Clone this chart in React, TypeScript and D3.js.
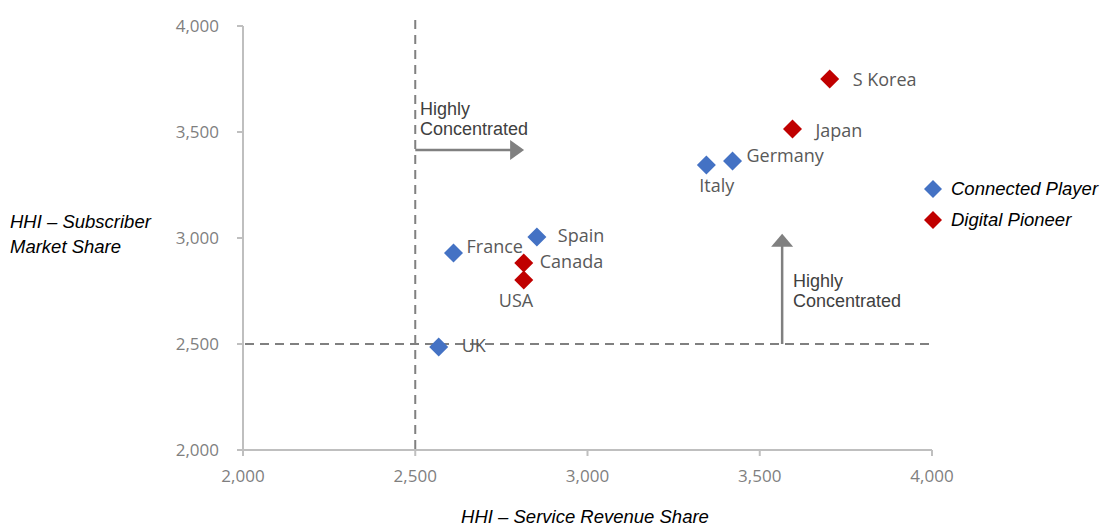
import React from "react";
import * as d3 from "d3";

const countries = ["UK", "France", "Spain", "Canada", "USA", "Italy", "Germany", "Japan", "S Korea"];
const revenueHHI = [2568, 2611, 2853, 2815, 2815, 3345, 3421, 3595, 3703];
const subscriberHHI = [2486, 2929, 3005, 2882, 2802, 3344, 3363, 3514, 3750];
const groups = ["Connected Player", "Connected Player", "Connected Player", "Digital Pioneer", "Digital Pioneer", "Connected Player", "Connected Player", "Digital Pioneer", "Digital Pioneer"];
const seriesNames = ["Connected Player", "Digital Pioneer"];
const xTicks = [2000, 2500, 3000, 3500, 4000];
const yTicks = [2000, 2500, 3000, 3500, 4000];
const threshold = 2500;

// label placement relative to point (dx, dy to baseline)
const labelOffsets: Record<string, [number, number]> = {
  UK: [23, 5],
  France: [13, 0],
  Spain: [21, 5],
  Canada: [16, 5],
  USA: [-25, 27],
  Italy: [-7, 27],
  Germany: [14, 1],
  Japan: [23, 8],
  "S Korea": [23, 7],
};

const W = 1102;
const H = 527;
const colors: Record<string, string> = { "Connected Player": "#4472c4", "Digital Pioneer": "#c00000" };

function diamond(cx: number, cy: number, r: number) {
  return `M${cx},${cy - r}L${cx + r},${cy}L${cx},${cy + r}L${cx - r},${cy}Z`;
}

export default function App() {
  const x = d3.scaleLinear().domain([2000, 4000]).range([243, 932]);
  const y = d3.scaleLinear().domain([2000, 4000]).range([450, 26]);
  const fmt = d3.format(",");
  const axisColor = "#bfbfbf";
  const grey = "#808080";
  const tickFont = "'Open Sans', sans-serif";
  const arial = "'Liberation Sans', Arial, sans-serif";

  const tx = x(threshold);
  const ty = y(threshold);
  const arrowY = y(3415);
  const arrowTipX = x(2816);
  const arrowX = x(3565);
  const arrowTipY = y(3020);

  return (
    <svg width={W} height={H} style={{ position: "absolute", left: 0, top: 0, background: "#fff" }}>
      {/* axes */}
      <line x1={x(2000)} x2={x(4000)} y1={y(2000)} y2={y(2000)} stroke={axisColor} strokeWidth={2} />
      <line x1={x(2000)} x2={x(2000)} y1={y(2000)} y2={y(4000)} stroke={axisColor} strokeWidth={2} />
      {xTicks.map((t) => (
        <g key={"xt" + t}>
          <line x1={x(t)} x2={x(t)} y1={y(2000)} y2={y(2000) + 6} stroke={axisColor} strokeWidth={2} />
          <text x={x(t)} y={482} textAnchor="middle" fontFamily={tickFont} fontSize={17} fill="#7f7f7f">
            {fmt(t)}
          </text>
        </g>
      ))}
      {yTicks.map((t) => (
        <g key={"yt" + t}>
          <line x1={x(2000) - 6} x2={x(2000)} y1={y(t)} y2={y(t)} stroke={axisColor} strokeWidth={2} />
          <text x={219} y={y(t) + 6} textAnchor="end" fontFamily={tickFont} fontSize={17} fill="#7f7f7f">
            {fmt(t)}
          </text>
        </g>
      ))}

      {/* threshold dashed lines */}
      <line x1={tx} x2={tx} y1={20} y2={y(2000)} stroke={grey} strokeWidth={2} strokeDasharray="9,6" />
      <line x1={x(2000) + 2} x2={x(4000)} y1={ty} y2={ty} stroke={grey} strokeWidth={2} strokeDasharray="9,6" />

      {/* horizontal arrow */}
      <line x1={tx} x2={arrowTipX - 12} y1={arrowY} y2={arrowY} stroke={grey} strokeWidth={2.5} />
      <path
        d={`M${arrowTipX},${arrowY}L${arrowTipX - 14},${arrowY - 10}L${arrowTipX - 14},${arrowY + 10}Z`}
        fill={grey}
      />
      <text x={420} y={115} fontFamily={arial} fontSize={18} fill="#404040">Highly</text>
      <text x={420} y={135} fontFamily={arial} fontSize={18} fill="#404040">Concentrated</text>

      {/* vertical arrow */}
      <line x1={arrowX} x2={arrowX} y1={ty} y2={arrowTipY + 12} stroke={grey} strokeWidth={2.5} />
      <path
        d={`M${arrowX},${arrowTipY}L${arrowX - 11},${arrowTipY + 13}L${arrowX + 11},${arrowTipY + 13}Z`}
        fill={grey}
      />
      <text x={793} y={287} fontFamily={arial} fontSize={18} fill="#404040">Highly</text>
      <text x={793} y={307} fontFamily={arial} fontSize={18} fill="#404040">Concentrated</text>

      {/* points */}
      {countries.map((c, i) => {
        const px = x(revenueHHI[i]);
        const py = y(subscriberHHI[i]);
        const [dx, dy] = labelOffsets[c];
        return (
          <g key={c}>
            <path d={diamond(px, py, 9.5)} fill={colors[groups[i]]} />
            <text x={px + dx} y={py + dy} fontFamily={tickFont} fontSize={18} fill="#595959">
              {c}
            </text>
          </g>
        );
      })}

      {/* legend */}
      {seriesNames.map((s, i) => (
        <g key={s}>
          <path d={diamond(933, 189 + i * 31, 9)} fill={colors[s]} />
          <text x={951} y={195 + i * 31} fontFamily={arial} fontStyle="italic" fontSize={18.5} fill="#000">
            {s}
          </text>
        </g>
      ))}

      {/* axis titles */}
      <text x={10} y={228} fontFamily={arial} fontStyle="italic" fontSize={18.5} fill="#000">HHI – Subscriber</text>
      <text x={10} y={253} fontFamily={arial} fontStyle="italic" fontSize={18.5} fill="#000">Market Share</text>
      <text x={585} y={523} textAnchor="middle" fontFamily={arial} fontStyle="italic" fontSize={18.5} fill="#000">
        HHI – Service Revenue Share
      </text>
    </svg>
  );
}
